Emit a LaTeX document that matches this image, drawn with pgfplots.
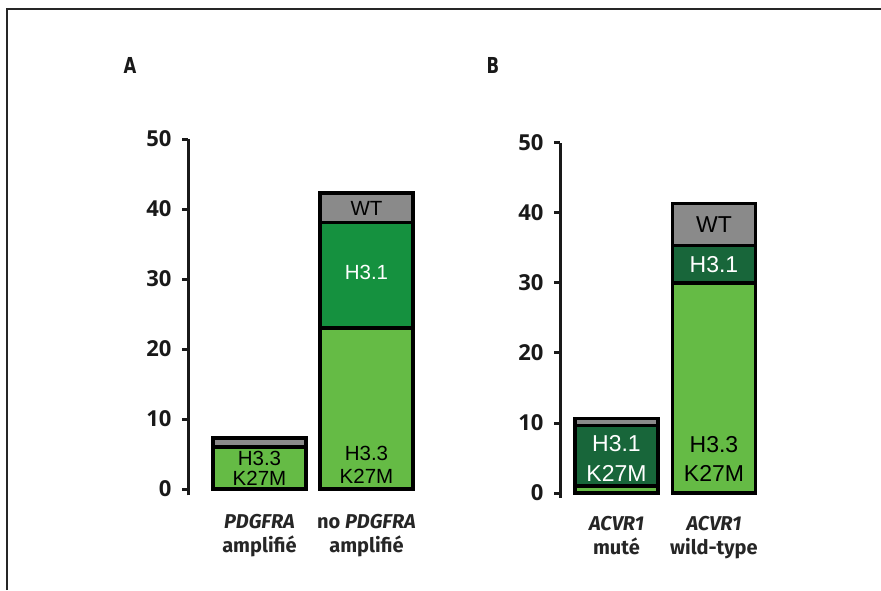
\documentclass[border=0pt]{standalone}
\usepackage{pgfplots}
\pgfplotsset{compat=1.18}
\usepackage{fontspec}
\setmainfont{Fira Sans}
\newfontfamily\ticksf{Open Sans}
\newfontfamily\catsf{Fira Sans}
\newfontfamily\dvsans{DejaVu Sans}
\newfontfamily\arialf{Liberation Sans}
\definecolor{lgreen}{HTML}{65BB45}
\definecolor{mgreen}{HTML}{15913F}
\definecolor{dgreen}{HTML}{18663A}
\definecolor{wtgray}{HTML}{8A8A8A}
\tikzset{
  lblA/.style={font=\arialf\fontsize{20.5}{24}\selectfont, inner sep=0pt},
  lblB/.style={font=\arialf\fontsize{23}{26}\selectfont, inner sep=0pt},
  panlbl/.style={font=\dvsans\bfseries\fontsize{22}{24}\selectfont, inner sep=0pt, text=black!90},
}
\begin{document}
\begin{tikzpicture}
\path[use as bounding box] (0pt,0pt) rectangle (881pt,590pt);
\draw[line width=1.8pt, black!85] (7pt,0pt) -- (7pt,581pt) -- (881pt,581pt);
\node[panlbl] at (130pt,525pt) {\scalebox{0.75}[1]{A}};
\node[panlbl] at (493pt,525pt) {\scalebox{0.75}[1]{B}};
\pgfplotsset{
  panel/.style={
    scale only axis,
    ybar stacked,
    ymax=50,
    axis y line*=left,
    axis x line*=bottom,
    x axis line style={draw=none},
    y axis line style={line width=3pt, black!90},
    ytick={0,10,20,30,40,50},
    tick align=outside,
    major tick length=6pt,
    ytick style={line width=3pt, black!90},
    xtick={1,2},
    xtick style={draw=none},
    /pgf/number format/assume math mode=true,
    yticklabel style={font=\ticksf\bfseries\fontsize{22}{24}\selectfont, xshift=-7pt, text=black!90},
    xticklabel style={align=center, yshift=-9pt, text=black!85, font=\catsf\bfseries\fontsize{20}{24}\selectfont},
    clip=false,
  }
}
% Panel A
\begin{axis}[panel,
  at={(188pt,94.7pt)}, anchor=south west,
  width=232pt, height=356.3pt,
  xmin=0.332, xmax=2.5, ymin=-0.9,
  bar width=0.87,
  xticklabels={{\itshape PDGFRA\\amplifié},{no \itshape PDGFRA\\amplifié}},
]
\addplot[draw=black, line width=3.2pt, fill=lgreen] coordinates {(1,6.0) (2,23.0)};
\addplot[draw=black, line width=3.2pt, fill=mgreen] coordinates {(1,0) (2,15.1)};
\addplot[draw=black, line width=3.2pt, fill=wtgray] coordinates {(1,1.3) (2,4.2)};
\coordinate (a1h) at (axis cs:1,4.35);
\coordinate (a1k) at (axis cs:1,1.55);
\coordinate (a2w) at (axis cs:2,40.1);
\coordinate (a2o) at (axis cs:2,31.0);
\coordinate (a2h) at (axis cs:2,5.1);
\coordinate (a2k) at (axis cs:2,1.8);
\end{axis}
\node[lblA] at (a1h) {H3.3};
\node[lblA] at (a1k) {K27M};
\node[lblA] at (a2w) {WT};
\node[lblA, text=white] at (a2o) {H3.1};
\node[lblA] at (a2h) {H3.3};
\node[lblA] at (a2k) {K27M};
% Panel B
\begin{axis}[panel,
  at={(560pt,92.1pt)}, anchor=south west,
  width=202.7pt, height=354.9pt,
  xmin=0.421, xmax=2.5, ymin=-0.7,
  bar width=0.851,
  xticklabels={{\itshape ACVR1\\muté},{\itshape ACVR1\\wild-type}},
]
\addplot[draw=black, line width=3.2pt, fill=lgreen] coordinates {(1,1.0) (2,30.0)};
\addplot[draw=black, line width=3.2pt, fill=dgreen] coordinates {(1,8.7) (2,5.4)};
\addplot[draw=black, line width=3.2pt, fill=wtgray] coordinates {(1,1.0) (2,6.0)};
\coordinate (b1o) at (axis cs:1,7.1);
\coordinate (b1k) at (axis cs:1,2.8);
\coordinate (b2w) at (axis cs:2,38.3);
\coordinate (b2o) at (axis cs:2,32.6);
\coordinate (b2h) at (axis cs:2,6.9);
\coordinate (b2k) at (axis cs:2,2.8);
\end{axis}
\node[lblB, text=white] at (b1o) {H3.1};
\node[lblB, text=white] at (b1k) {K27M};
\node[lblB] at (b2w) {WT};
\node[lblB, text=white] at (b2o) {H3.1};
\node[lblB] at (b2h) {H3.3};
\node[lblB] at (b2k) {K27M};
\end{tikzpicture}
\end{document}
